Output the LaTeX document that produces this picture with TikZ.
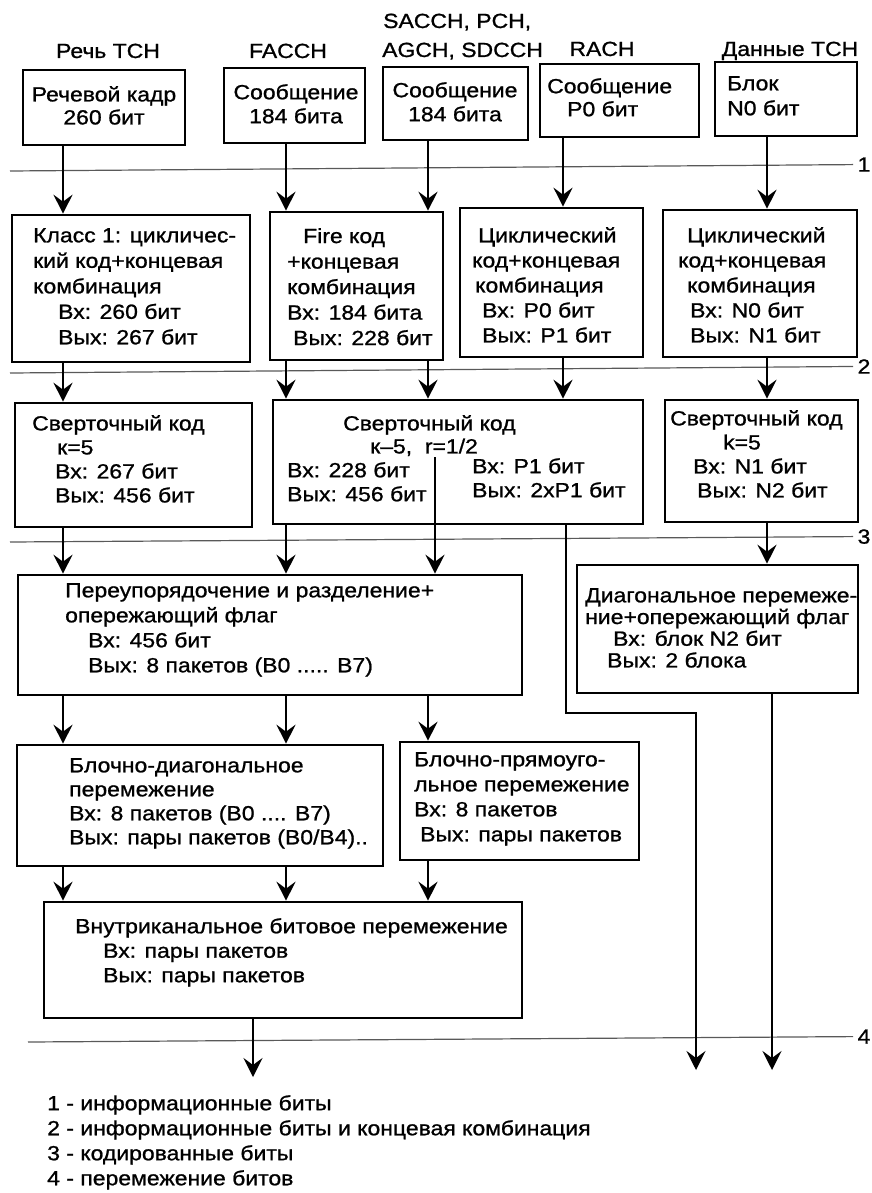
\documentclass[tikz,border=0pt]{standalone}
\usepackage{fontspec}
\setmainfont{Liberation Sans}[FakeStretch=1.12, FakeBold=1]
\usetikzlibrary{arrows.meta,fit}
\begin{document}
\begin{tikzpicture}[x=1pt,y=-1pt,
  box/.style={draw, line width=2.6pt, inner sep=0pt},
  txt/.style={anchor=north west, inner sep=0pt, align=left,
    font={\fontsize{20.5}{#1}\selectfont}, execute at begin node={\rule{0pt}{16pt}}},
  txt/.default=25,
  ctxt/.style={txt=#1, anchor=north, align=center},
  ctxt/.default=24,
  head/.style={anchor=base, inner sep=0pt, font={\fontsize{20.5}{22}\selectfont}},
  lab/.style={anchor=mid, inner sep=0pt, font={\fontsize{20.5}{22}\selectfont}},
  sep/.style={line width=1.2pt, black!65},
  arr/.style={line width=2.2pt, -{Stealth[length=19pt,width=19pt,inset=7pt]}},
  wire/.style={line width=2.2pt}
]
\useasboundingbox (0,0) rectangle (872,1193);

% separators between coding stages
\node[lab] (n1) at (864,169) {1};
\node[lab] (n2) at (864,371) {2};
\node[lab] (n3) at (864,541) {3};
\node[lab] (n4) at (864,1041) {4};
\coordinate (s1) at (10,171);
\coordinate (s2) at (10,373);
\coordinate (s3) at (10,542);
\coordinate (s4) at (28,1042);
\draw[sep] (s1) -- (n1.west -| 853,0);
\draw[sep] (s2) -- (n2.west -| 853,0);
\draw[sep] (s3) -- (n3.west -| 853,0);
\draw[sep] (s4) -- (n4.west -| 853,0);

% channel headings
\node[head] (h1) at (108,58) {Речь TCH};
\node[head] (h2) at (288,58) {FACCH};
\node[head, anchor=base west] (h3a) at (383,28) {SACCH, PCH,};
\node[head, anchor=base west] (h3b) at (382,57) {AGCH, SDCCH};
\node[head] (h4) at (602,56) {RACH};
\node[head] (h5) at (790,56) {Данные TCH};

% processing blocks
\node[box, fit={(23,70)(185,145)}] (r1a) {};
\node[box, fit={(224,68)(365,143)}] (r1b) {};
\node[box, fit={(383,67)(528,140)}] (r1c) {};
\node[box, fit={(540,64)(699,137)}] (r1d) {};
\node[box, fit={(715,62)(857,136)}] (r1e) {};
\node[box, fit={(12,215)(250,362)}] (r2a) {};
\node[box, fit={(270,212)(443,360)}] (r2b) {};
\node[box, fit={(460,208)(643,357)}] (r2c) {};
\node[box, fit={(663,210)(857,357)}] (r2d) {};
\node[box, fit={(15,403)(252,527)}] (r3a) {};
\node[box, fit={(273,400)(643,524)}] (r3b) {};
\node[box, fit={(665,400)(858,522)}] (r3c) {};
\node[box, fit={(18,575)(522,695)}] (r4a) {};
\node[box, fit={(577,565)(858,693)}] (r4b) {};
\node[box, fit={(17,745)(383,866)}] (r5a) {};
\node[box, fit={(400,742)(639,860)}] (r5b) {};
\node[box, fit={(44,902)(522,1018)}] (r6) {};

% block texts
\node[ctxt=23] (t1a) at (104,86) {Речевой кадр\\260 бит};
\node[ctxt=24] (t1b) at (296,84) {Сообщение\\184 бита};
\node[ctxt=24] (t1c) at (455,82) {Сообщение\\184 бита};
\node[txt=23] (t1d) at (547,78) {Сообщение\\\hspace*{20pt}P0 бит};
\node[txt=25] (t1e) at (727,76) {Блок\\N0 бит};

\node[txt=25.5] (t2a) at (33,228) {Класс 1: цикличес-\\кий код+концевая\\комбинация\\\hspace*{25pt}Вх: 260 бит\\\hspace*{25pt}Вых: 267 бит};
\node[txt=25.5] (t2b) at (287,228) {\hspace*{16pt}Fire код\\+концевая\\комбинация\\Вх: 184 бита\\\hspace*{6pt}Вых: 228 бит};
\node[txt=25] (t2c) at (472,227) {\hspace*{6pt}Циклический\\код+концевая\\\hspace*{3pt}комбинация\\\hspace*{10pt}Вх: P0 бит\\\hspace*{10pt}Вых: P1 бит};
\node[txt=25] (t2d) at (678,227) {\hspace*{9pt}Циклический\\код+концевая\\\hspace*{9pt}комбинация\\\hspace*{12pt}Вх: N0 бит\\\hspace*{12pt}Вых: N1 бит};

\node[txt=24] (t3a) at (32,415) {Сверточный код\\\hspace*{25pt}к=5\\\hspace*{23pt}Вх: 267 бит\\\hspace*{23pt}Вых: 456 бит};
\node[txt=23] (t3b) at (343,415) {Сверточный код\\\hspace*{27pt}к–5,\ \ r=1/2};
\node[txt=24] (t3bl) at (287,462) {Вх: 228 бит\\Вых: 456 бит};
\node[txt=24] (t3br) at (472,458) {Вх: P1 бит\\Вых: 2xP1 бит};
\node[txt=24] (t3c) at (670,410) {Сверточный код\\\hspace*{53pt}k=5\\\hspace*{23pt}Вх: N1 бит\\\hspace*{27pt}Вых: N2 бит};

\node[txt=25] (t4a) at (65,583) {Переупорядочение и разделение+\\опережающий флаг\\\hspace*{23pt}Вх: 456 бит\\\hspace*{23pt}Вых: 8 пакетов (B0 ..... B7)};
\node[txt=21.7] (t4b) at (585,588) {Диагональное перемеже-\\ние+опережающий флаг\\\hspace*{28pt}Вх: блок N2 бит\\\hspace*{22pt}Вых: 2 блока};

\node[txt=24] (t5a) at (69,758) {Блочно-диагональное\\перемежение\\Вх: 8 пакетов (B0 .... B7)\\Вых: пары пакетов (B0/B4)..};
\node[txt=25] (t5b) at (414,752) {Блочно-прямоуго-\\льное перемежение\\Вх: 8 пакетов\\\hspace*{6pt}Вых: пары пакетов};
\node[txt=24.5] (t6) at (75,918) {Внутриканальное битовое перемежение\\\hspace*{28pt}Вх: пары пакетов\\\hspace*{28pt}Вых: пары пакетов};

% legend
\node[txt=25] (leg) at (47,1095) {1 - информационные биты\\2 - информационные биты и концевая комбинация\\3 - кодированные биты\\4 - перемежение битов};

% data flow
\coordinate (cA) at (63,0);
\coordinate (cB) at (286,0);
\coordinate (cC) at (428,0);
\coordinate (cD) at (563,0);
\coordinate (cE) at (767,0);
\draw[arr] (r1a.south -| cA) -- (r2a.north -| cA);
\draw[arr] (r1b.south -| cB) -- (r2b.north -| cB);
\draw[arr] (r1c.south -| cC) -- (r2b.north -| cC);
\draw[arr] (r1d.south -| cD) -- (r2c.north -| cD);
\draw[arr] (r1e.south -| cE) -- (r2d.north -| cE);
\draw[arr] (r2a.south -| cA) -- (r3a.north -| cA);
\draw[arr] (r2b.south -| cB) -- (r3b.north -| cB);
\draw[arr] (r2b.south -| cC) -- (r3b.north -| cC);
\draw[arr] (r2c.south -| cD) -- (r3b.north -| cD);
\draw[arr] (r2d.south -| cE) -- (r3c.north -| cE);
\draw[arr] (r3a.south -| cA) -- (r4a.north -| cA);
\draw[arr] (r3b.south -| cB) -- (r4a.north -| cB);
\coordinate (dv) at (435,457);
\draw[arr] (dv) -- (r4a.north -| dv);
\draw[arr] (r3c.south -| cE) -- (r4b.north -| cE);
\draw[arr] (r4a.south -| cA) -- (r5a.north -| cA);
\draw[arr] (r4a.south -| cB) -- (r5a.north -| cB);
\draw[arr] (r4a.south -| cC) -- (r5b.north -| cC);
\draw[arr] (r5a.south -| cA) -- (r6.north -| cA);
\draw[arr] (r5a.south -| cB) -- (r6.north -| cB);
\draw[arr] (r5b.south -| cC) -- (r6.north -| cC);
\coordinate (o1) at (253,1077);
\draw[arr] (r6.south -| o1) -- (o1);
\coordinate (k1) at (566,713);
\coordinate (o2) at (696,1070);
\draw[arr] (r3b.south -| k1) -- (k1) -| (o2);
\coordinate (o3) at (772,1070);
\draw[arr] (r4b.south -| o3) -- (o3);
\end{tikzpicture}
\end{document}
